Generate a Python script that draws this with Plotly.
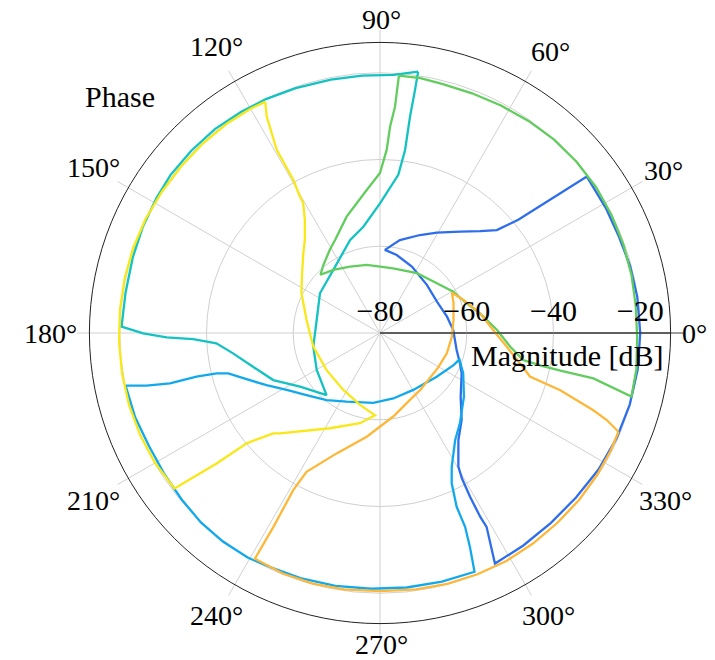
import plotly.graph_objects as go

# Phase (deg) / magnitude (dB) loops for six channels
theta_blue = [37.1, 39.3, 41.4, 45.5, 51.7, 60.5, 67.8, 77.9, 86.6, 77.9, 64.4, 45.8, 28.9, 13.7, 2.3,
              -12.5, -20.7, -26.3, -38.3, -46.8, -53.8, -59.6, -60.6, -61.2, -61.4, -61.2, -63.5,
              -56, -48, -40, -32, -24, -16, -8, 0, 8, 15, 22, 29, 37.1]
mag_blue = [-20.2, -38.8, -44.1, -47.1, -50.2, -53.4, -55.6, -58.1, -60.8, -61.6, -63.0, -64.5, -65.0, -64.1, -63.1,
            -61.9, -60.3, -59.0, -56.3, -52.5, -49.4, -44.3, -41.5, -36.9, -31.7, -29.0, -20.6,
            -20.9, -21.1, -21.0, -20.6, -20.3, -20.1, -20.0, -20.0, -20.1, -20.3, -20.6, -20.5, -20.2]

theta_sky = [191.7, 192.7, 193.5, 193.4, 193.9, 194.9, 198.3, 204.7, 211.4, 220.2, 231.5, 244.1, 264.5, 281.5,
             300.3, 322.4, 336.4, 341.6, 334.2, 322.8, 311.5, 305, 298.2, 295.5, 293.8, 293.7, 292.8, 291.6,
             284, 276, 268, 260, 252, 245, 239.6, 233, 226.6, 220, 213, 206, 199, 191.7]
mag_sky = [-20.1, -24.8, -30.2, -36.5, -41.2, -43.8, -46.8, -51.2, -54.8, -57.8, -60.2, -62.4, -63.8, -64.6,
           -64.8, -63.5, -61.5, -60.7, -58.7, -55.7, -52.2, -49.8, -45.0, -41.6, -36.2, -31.2, -26.5, -20.8,
           -20.9, -21.0, -21.0, -20.8, -20.6, -20.4, -19.9, -19.8, -19.9, -20.3, -20.6, -20.7, -20.3, -20.1]

theta_teal = [81.7, 81.8, 82.1, 82.2, 83.4, 90, 98.9, 107.9, 126.5, 146.5, 168.4, 191.6, 210.3, 229.3,
              213.9, 203.8, 194.9, 187.9, 183.6, 181.9, 181.2, 180.1, 178.6,
              171, 163, 156, 149, 143, 136, 129, 122, 116, 109, 101, 94, 87, 81.7]
mag_teal = [-19.1, -23.3, -29.6, -37.4, -43.3, -50.1, -55.2, -57.5, -61.9, -63.4, -65.1, -64.3, -63.1, -61.1,
            -57.8, -53.1, -49.7, -45.8, -42.2, -36.9, -30.8, -25.4, -20.4,
            -20.6, -20.4, -20.1, -19.8, -19.5, -19.5, -19.5, -19.8, -20.0, -20.3, -20.5, -20.5, -20.4, -19.1]

theta_green = [85.8, 86.2, 87.2, 87.9, 90, 95.3, 106, 115.8, 121.1, 129.8, 135.6, 126.5, 114.3, 101, 78.4,
               58.4, 43.9, 29.4, 18.9, 11.1, 1.5, -6, -10.7, -11.5, -11.8, -12, -14.2,
               -8, -1, 6, 13, 20, 27, 34, 41, 48, 55, 62, 69, 76, 81, 85.8]
mag_green = [-20.5, -27.7, -32.3, -37.7, -43.1, -46.9, -52.1, -56.2, -57.6, -59.6, -60.8, -61.9, -63.2, -64.0, -64.8,
             -63.8, -62.9, -60.6, -58.9, -56.5, -53.0, -49.8, -46.4, -41.9, -37.5, -29.7, -20.2,
             -20.3, -20.7, -20.7, -20.5, -20.3, -20.1, -19.9, -19.9, -20.0, -20.3, -20.6, -20.8, -20.8, -20.5, -20.5]

theta_yellow = [116.4, 117.6, 119.4, 119.5, 120.4, 120.6, 123.6, 128.9, 133.9, 143.4, 153.1, 169.9, 191.6,
                214.8, 237.2, 254.5, 266.5, 257.5, 242.3, 225.1, 223.2, 219.6, 218.6, 217.1,
                210, 203, 196, 189, 182, 175, 168, 161, 154, 147, 140, 133, 126, 119.9, 116.4]
mag_yellow = [-20.5, -23.6, -31.5, -39.4, -43.5, -45.2, -48.7, -52.4, -54.5, -57.6, -59.7, -62.8, -64.3,
              -65.0, -64.4, -62.8, -61.0, -58.7, -55.2, -47.3, -46.2, -40.1, -31.8, -20.6,
              -20.1, -19.9, -19.8, -19.8, -19.8, -19.8, -19.8, -19.8, -19.9, -20.1, -20.2, -20.2, -20.2, -20.3, -20.5]

theta_orange = [-22.5, -21, -19.9, -17.6, -16.2, -12.2, -6.2, 1.5, 11.1, 21.6, 29.2, 22.1, 10, -3, -16.9,
                -31.1, -55, -65.9, -81, -97.3, -109.8, -117.9, -118.9, -118.8, -119,
                -112, -105, -98, -90, -82, -75, -68, -61, -54, -47, -40, -33, -27, -22.5]
mag_orange = [-20.5, -24.0, -27.7, -36.4, -44.0, -47.0, -50.6, -53.9, -56.5, -59.3, -61.0, -61.7, -62.8, -63.4, -63.9,
              -64.4, -63.9, -63.1, -60.5, -55.9, -50.5, -43.8, -38.6, -29.0, -20.5,
              -20.2, -20.2, -20.3, -20.5, -20.3, -20.1, -20.0, -19.9, -20.0, -20.1, -20.1, -20.2, -20.3, -20.5]

series = [
    (theta_blue, mag_blue, "#2f6eeb"),
    (theta_sky, mag_sky, "#12a9ec"),
    (theta_teal, mag_teal, "#14c2c2"),
    (theta_green, mag_green, "#62cd5e"),
    (theta_orange, mag_orange, "#fdb83a"),
    (theta_yellow, mag_yellow, "#f8e81a"),
]

radial_ticks = [-80, -60, -40, -20]
radial_labels = ["\u221280", "\u221260", "\u221240", "\u221220"]
angle_ticks = list(range(0, 360, 30))
angle_labels = [f"{a}\u00b0" for a in angle_ticks]

FONT = "Liberation Serif"
GRID = "#d0d0d0"

# Both polar frames share one centre (380, 333 px); the outer frame only carries
# the spokes that run past the rim.
CX, CY, W, H = 380, 333, 715, 660
R_DATA, R_OUTER = 290.6, 303

# Centres (px) of the phase labels around the rim, in angle_ticks order.
phase_label_xy = [(694, 333), (663, 170), (550, 52), (381, 19), (216, 46), (93, 167),
                  (51, 333), (93, 500), (216, 615), (381, 644), (548, 615), (665, 500)]


def square_domain(radius):
    return dict(x=[(CX - radius) / W, (CX + radius) / W],
                y=[(H - CY - radius) / H, (H - CY + radius) / H])


def paper_text(text, px, py, size):
    return dict(text=text, x=px / W, y=1 - py / H, xref="paper", yref="paper",
                xanchor="center", yanchor="middle", showarrow=False,
                font=dict(family=FONT, size=size, color="black"))


fig = go.Figure()
fig.add_trace(go.Scatterpolar(r=[], theta=[], subplot="polar", showlegend=False))
for th, mag, col in series:
    fig.add_trace(go.Scatterpolar(
        theta=th, r=mag, mode="lines", subplot="polar2",
        line=dict(color=col, width=2.3),
        showlegend=False, hoverinfo="skip",
    ))

annotations = [paper_text(lab, px, py, 28) for lab, (px, py) in zip(angle_labels, phase_label_xy)]
annotations.append(paper_text("Phase", 120, 96, 30))
annotations.append(paper_text("Magnitude [dB]", 567, 355, 30))

fig.update_layout(
    width=W, height=H,
    margin=dict(l=0, r=0, t=0, b=0),
    paper_bgcolor="white",
    font=dict(family=FONT, size=28, color="black"),
    polar=dict(
        domain=square_domain(R_OUTER),
        bgcolor="white",
        radialaxis=dict(range=[0, 1], angle=0, showgrid=False, showticklabels=False,
                        ticks="", showline=True, linecolor="#555", linewidth=1),
        angularaxis=dict(
            rotation=0, direction="counterclockwise",
            tickmode="array", tickvals=angle_ticks,
            showticklabels=False, showline=False, ticks="",
            gridcolor=GRID, gridwidth=1,
        ),
    ),
    polar2=dict(
        domain=square_domain(R_DATA),
        bgcolor="rgba(0,0,0,0)",
        radialaxis=dict(
            range=[-80, -13], angle=0,
            tickmode="array", tickvals=radial_ticks, ticktext=radial_labels,
            showline=True, linecolor="#222", linewidth=1,
            gridcolor=GRID, gridwidth=1,
            ticks="", tickfont=dict(family=FONT, size=30),
            side="counterclockwise",
        ),
        angularaxis=dict(
            rotation=0, direction="counterclockwise",
            tickmode="array", tickvals=angle_ticks,
            showticklabels=False, ticks="",
            showline=True, linecolor="#222", linewidth=1,
            showgrid=False,
        ),
    ),
    annotations=annotations,
)

fig.write_html("out.html")
